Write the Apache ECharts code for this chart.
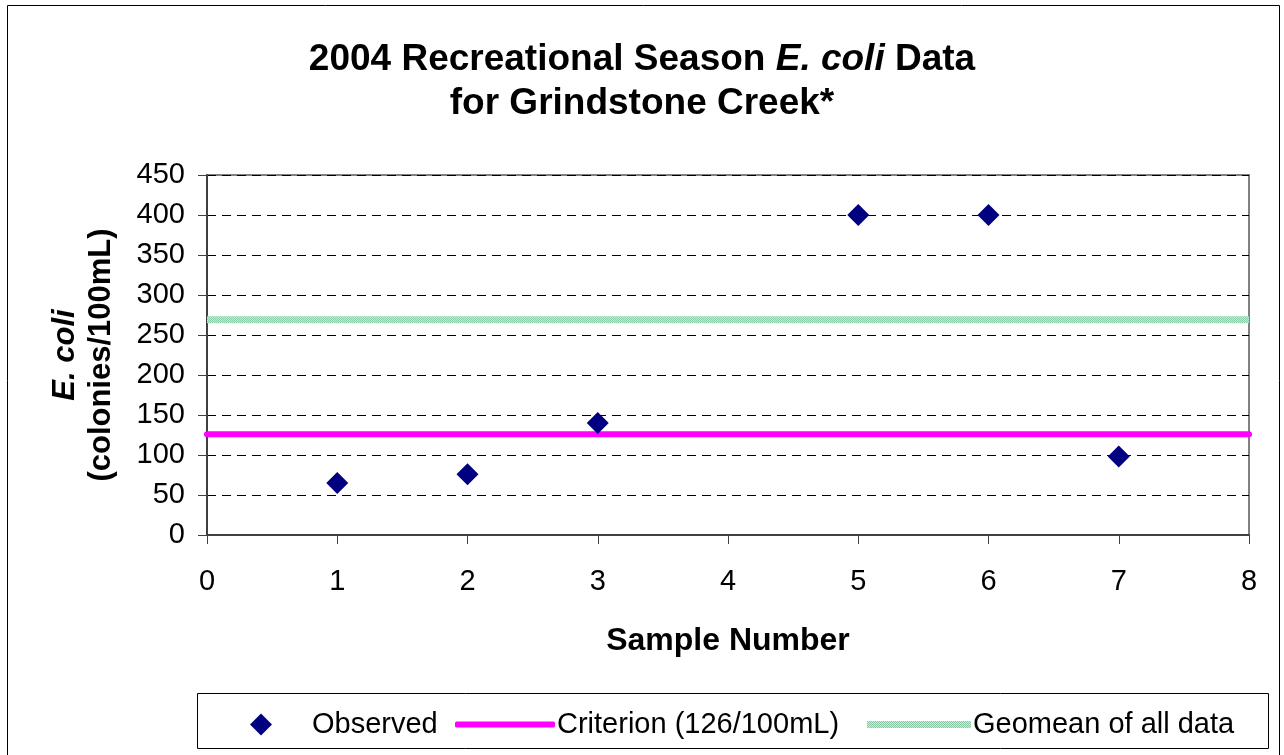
<!DOCTYPE html>
<html>
<head>
<meta charset="utf-8">
<script src="https://cdn.jsdelivr.net/npm/echarts@6/dist/echarts.min.js"></script>
<style>
  html, body { margin: 0; padding: 0; background: #fff; }
  #chart { width: 1284px; height: 755px; }
</style>
</head>
<body>
<div id="chart"></div>
<script>
const sampleNumbers = [1, 2, 3, 5, 6, 7];
const observed = [65, 76, 140, 400, 400, 98];
const criterionValue = 126;
const geomeanValue = 269;
const xRange = [0, 8];
const yTicks = [0, 50, 100, 150, 200, 250, 300, 350, 400, 450];

const FONT = "'Liberation Sans', Arial, sans-serif";
const NAVY = "#000080";
const MAGENTA = "#ff00ff";

function hatchPattern() {
  const c = document.createElement("canvas");
  c.width = 2;
  c.height = 2;
  const ctx = c.getContext("2d");
  ctx.fillStyle = "#d0ebdc";
  ctx.fillRect(0, 0, 2, 2);
  ctx.fillStyle = "#86c8a4";
  ctx.fillRect(0, 0, 1, 1);
  ctx.fillRect(1, 1, 1, 1);
  return { image: c, repeat: "repeat" };
}

const chart = echarts.init(document.getElementById("chart"));
const geoColor = hatchPattern();

const legendText = { fontFamily: FONT, fontSize: 29, color: "#000" };

chart.setOption({
  animation: false,
  textStyle: { fontFamily: FONT },
  title: {
    text: "{b|2004 Recreational Season }{i|E. coli}{b| Data}\n{b|for Grindstone Creek*}",
    left: "center",
    top: 33,
    textStyle: {
      rich: {
        b: { fontFamily: FONT, fontSize: 37, fontWeight: "bold", color: "#000", lineHeight: 44 },
        i: { fontFamily: FONT, fontSize: 37, fontWeight: "bold", fontStyle: "italic", color: "#000", lineHeight: 44 }
      }
    }
  },
  graphic: [
    {
      type: "rect",
      shape: { x: 7.5, y: 5.5, width: 1272, height: 780 },
      style: { fill: "none", stroke: "#000", lineWidth: 1 },
      silent: true
    },
    {
      type: "rect",
      shape: { x: 197.5, y: 693.5, width: 1071, height: 55 },
      style: { fill: "none", stroke: "#000", lineWidth: 1 },
      silent: true
    }
  ],
  legend: [
    {
      left: 245,
      top: 705,
      itemWidth: 22,
      itemHeight: 22,
      textStyle: Object.assign({ padding: [0, 0, 0, 35] }, legendText),
      data: [{ name: "Observed", icon: "diamond", itemStyle: { color: NAVY, opacity: 1 } }]
    },
    {
      left: 450,
      top: 705,
      itemWidth: 100,
      itemHeight: 6,
      textStyle: Object.assign({ padding: [0, 0, 0, -3] }, legendText),
      data: [{ name: "Criterion (126/100mL)", icon: "roundRect", itemStyle: { color: MAGENTA } }]
    },
    {
      left: 862,
      top: 705,
      itemWidth: 104,
      itemHeight: 7,
      textStyle: Object.assign({ padding: [0, 0, 0, -3] }, legendText),
      data: [{ name: "Geomean of all data", icon: "rect", itemStyle: { color: geoColor } }]
    }
  ],
  grid: {
    left: 207,
    right: 35,
    top: 175,
    bottom: 220,
    show: true,
    borderColor: "#808080",
    borderWidth: 2,
    backgroundColor: "#fff"
  },
  xAxis: {
    type: "value",
    min: xRange[0],
    max: xRange[1],
    interval: 1,
    name: "Sample Number",
    nameLocation: "middle",
    nameGap: 90,
    nameTextStyle: { fontFamily: FONT, fontSize: 32, fontWeight: "bold", color: "#000" },
    axisLine: { show: true, onZero: false, lineStyle: { color: "#404040", width: 2 } },
    axisTick: { show: true, length: 9, lineStyle: { color: "#404040", width: 1 } },
    axisLabel: { fontFamily: FONT, fontSize: 29, color: "#000", margin: 32 },
    splitLine: { show: false }
  },
  yAxis: {
    type: "value",
    min: yTicks[0],
    max: yTicks[yTicks.length - 1],
    interval: 50,
    name: "{i|E. coli}\n{b|(colonies/100mL)}",
    nameLocation: "middle",
    nameRotate: 90,
    nameGap: 88,
    nameTextStyle: {
      rich: {
        i: { fontFamily: FONT, fontSize: 31, fontWeight: "bold", fontStyle: "italic", color: "#000", lineHeight: 36 },
        b: { fontFamily: FONT, fontSize: 31, fontWeight: "bold", color: "#000", lineHeight: 36 }
      }
    },
    axisLine: { show: true, lineStyle: { color: "#404040", width: 2 } },
    axisTick: { show: true, length: 9, lineStyle: { color: "#404040", width: 1 } },
    axisLabel: { fontFamily: FONT, fontSize: 29, color: "#000", margin: 22 },
    splitLine: {
      show: true,
      lineStyle: { color: "#000", width: 1, type: [9, 6] }
    }
  },
  series: [
    {
      name: "Geomean of all data",
      type: "line",
      data: [[xRange[0], geomeanValue], [xRange[1], geomeanValue]],
      symbol: "none",
      lineStyle: { color: geoColor, width: 7 },
      itemStyle: { color: geoColor },
      z: 2,
      silent: true
    },
    {
      name: "Criterion (126/100mL)",
      type: "line",
      data: [[xRange[0], criterionValue], [xRange[1], criterionValue]],
      symbol: "none",
      lineStyle: { color: MAGENTA, width: 6, cap: "round" },
      itemStyle: { color: MAGENTA },
      z: 3,
      silent: true
    },
    {
      name: "Observed",
      type: "scatter",
      data: sampleNumbers.map((x, i) => [x, observed[i]]),
      symbol: "diamond",
      symbolSize: 22,
      itemStyle: { color: NAVY, opacity: 1 },
      z: 4
    }
  ]
});
</script>
</body>
</html>
